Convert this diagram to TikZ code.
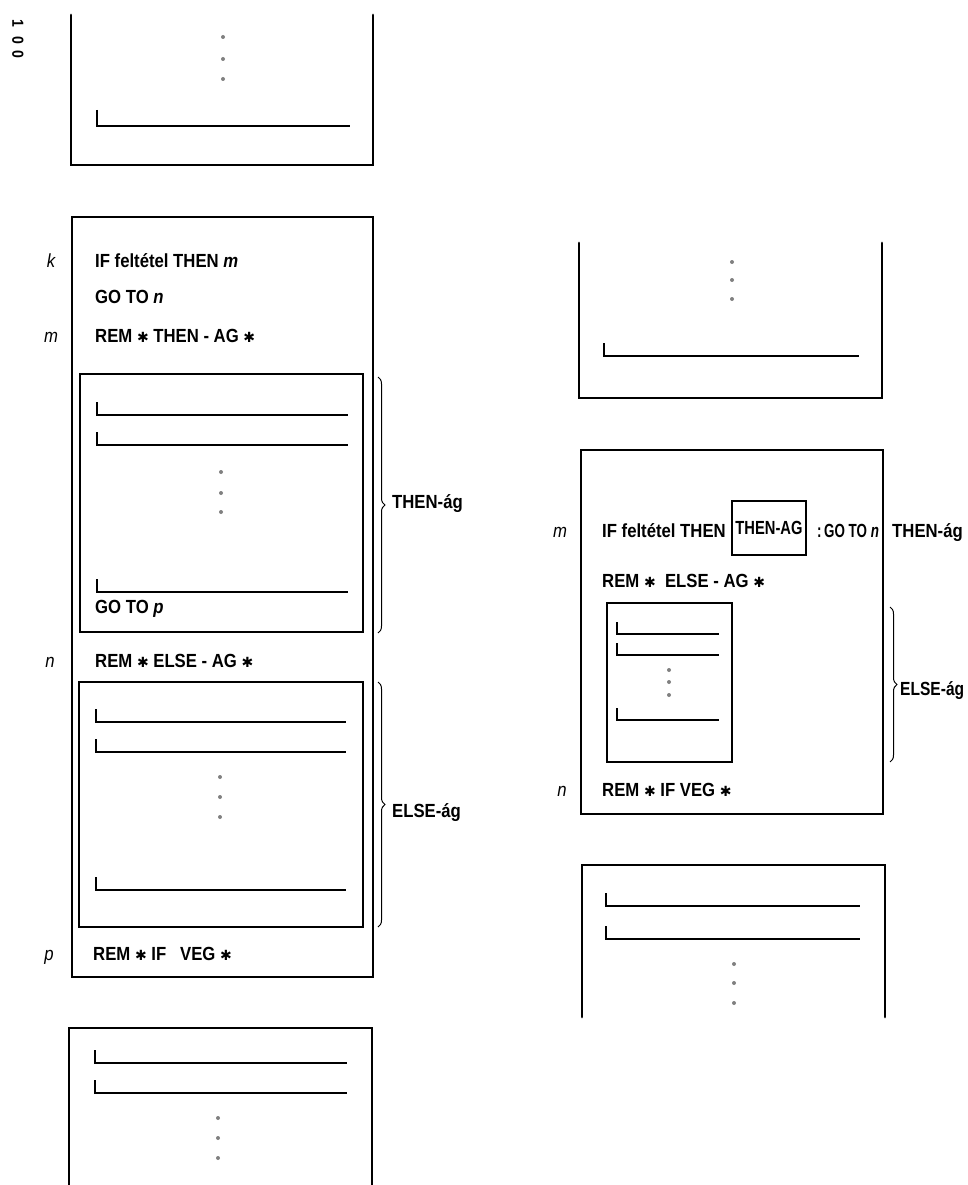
\documentclass[tikz,border=0pt]{standalone}
\usepackage{fontspec}
\setmainfont{Liberation Sans}[FakeStretch=0.88]
\newfontfamily\starfont{DejaVu Sans}
\newcommand\remstar{{\starfont\fontsize{14}{16}\selectfont ✱}}
\usetikzlibrary{decorations.pathreplacing,calc}
\tikzset{frame/.style={line width=2.9pt,line cap=round},stmt/.style={line width=1.9pt},
code/.style={anchor=base west,inner sep=0pt,font=\fontsize{19}{22}\selectfont\bfseries},
lbl/.style={anchor=base,inner sep=0pt,font=\fontsize{19}{22}\selectfont\itshape},
branch/.style={decorate,decoration={brace,amplitude=7pt},line width=1pt},
dot/.style={fill=black!50}}

\begin{document}
\begin{tikzpicture}[x=1pt,y=-1pt]
\useasboundingbox (0,0) rectangle (968,1185);
\node[rotate=-90,font=\fontsize{16}{18}\selectfont\bfseries,inner sep=0pt] (pagenum) at (18,39) {1\hspace{9pt}0\hspace{7pt}0};
% left column: IF ... THEN m / GO TO n
\draw[frame] (71,15) -- (71,165) -- (373,165) -- (373,15);
\draw[stmt] (97,110) |- (350,126);
\fill[dot] (223,37) circle (2) (223,59) circle (2) (223,79) circle (2);
\draw[frame] (72,217) rectangle (373,977);
\node[lbl] (labk) at (51,267) {k}; \node[code] (ifk) at (95,267) {IF feltétel THEN \textit{m}};
\node[code] (goton) at (95,303) {GO TO \textit{n}};
\node[lbl] (labm) at (51,342) {m}; \node[code] (remthen) at (95,342) {REM \remstar\ THEN - AG \remstar};
\draw[frame] (80,374) rectangle (363,632);
\draw[stmt] (97,402) |- (348,415); \draw[stmt] (97,432) |- (348,445); \draw[stmt] (97,579) |- (348,592);
\fill[dot] (221,472) circle (2) (221,493) circle (2) (221,512) circle (2);
\node[code] (gotop) at (95,613) {GO TO \textit{p}};
\draw[branch] (378,377) -- (378,633);
\node[code] (thenag) at (392,508) {THEN-ág};
\node[lbl] (labn) at (50,667) {n}; \node[code] (remelse) at (95,667) {REM \remstar\ ELSE - AG \remstar};
\draw[frame] (79,682) rectangle (363,927);
\draw[stmt] (96,709) |- (346,722); \draw[stmt] (96,739) |- (346,752); \draw[stmt] (96,877) |- (346,890);
\fill[dot] (220,777) circle (2) (220,797) circle (2) (220,817) circle (2);
\draw[branch] (378,682) -- (378,927);
\node[code] (elseag) at (392,817) {ELSE-ág};
\node[lbl] (labp) at (49,960) {p}; \node[code] (remveg) at (93,960) {REM \remstar\ IF\ \ \ VEG \remstar};
\draw[frame] (69,1185) -- (69,1028) -- (372,1028) -- (372,1185);
\draw[stmt] (95,1050) |- (347,1063); \draw[stmt] (95,1080) |- (347,1093);
\fill[dot] (218,1118) circle (2) (218,1138) circle (2) (218,1158) circle (2);
% right column: one-line IF
\draw[frame] (579,243) -- (579,398) -- (882,398) -- (882,243);
\draw[stmt] (604,343) |- (859,356);
\fill[dot] (732,262) circle (2) (732,280) circle (2) (732,299) circle (2);
\draw[frame] (581,450) rectangle (883,814);
\node[lbl] (rlabm) at (560,537) {m}; \node[code] (rif) at (602,537) {IF feltétel THEN};
\node[draw,line width=2.9pt,minimum width=74pt,minimum height=54pt,inner sep=0pt,
 font=\fontsize{19}{22}\selectfont\bfseries] (rthenbox) at (769,528) {\scalebox{0.88}[1]{THEN-AG}};
\node[code] (rgoton) at (817,537) {\scalebox{0.8}[1]{:\,GO TO \textit{n}}};
\node[code] (rthenag) at (892,537) {THEN-ág};
\node[code] (rremelse) at (602,587) {REM \remstar\ \ ELSE - AG \remstar};
\draw[frame] (607,603) rectangle (732,762);
\draw[stmt] (617,622) |- (719,634); \draw[stmt] (617,643) |- (719,655); \draw[stmt] (617,708) |- (719,720);
\fill[dot] (669,670) circle (2) (669,682) circle (2) (669,695) circle (2);
\draw[branch] (890,607) -- (890,762);
\node[code] (relseag) at (900,695) {\scalebox{0.93}[1]{ELSE-ág}};
\node[lbl] (rlabn) at (562,796) {n}; \node[code] (rremveg) at (602,796) {REM \remstar\ IF VEG \remstar};
\draw[frame] (582,1017) -- (582,865) -- (885,865) -- (885,1017);
\draw[stmt] (606,893) |- (860,906); \draw[stmt] (606,926) |- (860,939);
\fill[dot] (734,964) circle (2) (734,983) circle (2) (734,1003) circle (2);
\end{tikzpicture}
\end{document}
